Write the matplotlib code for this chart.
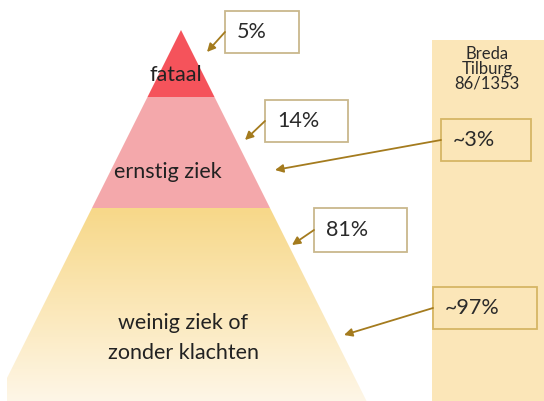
import matplotlib.pyplot as plt
import numpy as np
from matplotlib.patches import Polygon, Rectangle
from matplotlib.colors import LinearSegmentedColormap

# pyramid tiers (top to bottom)
tiers = ['fataal', 'ernstig ziek', 'weinig ziek of\nzonder klachten']
tier_bounds = [30, 97, 208, 401]   # y of apex and tier bottoms
pcts = ['5%', '14%', '81%']
right_pcts = ['~3%', '~97%']
side_title = 'Breda\nTilburg\n86/1353'

apex_x = 181
slope = 0.5
left_clip = 7

def half(y):
    return slope * (y - tier_bounds[0])

fig = plt.figure(figsize=(5.44, 4.01), dpi=100)
ax = fig.add_axes([0, 0, 1, 1])
ax.set_xlim(0, 544)
ax.set_ylim(401, 0)
ax.axis('off')

font = ['Lato', 'DejaVu Sans']
plt.rcParams['font.family'] = font

# right column
ax.add_patch(Rectangle((432, 40), 112, 361, facecolor='#FBE6B8', edgecolor='none'))
ax.text(487, 69, side_title, ha='center', va='center', fontsize=12,
        color='#2a2a2a', linespacing=0.9)

# top two tiers
tier_colors = ['#F5535B', '#F4A8AB']
for i in range(2):
    y0, y1 = tier_bounds[i], tier_bounds[i + 1]
    pts = [(apex_x - half(y0), y0), (apex_x + half(y0), y0),
           (apex_x + half(y1), y1), (apex_x - half(y1), y1)]
    ax.add_patch(Polygon(pts, closed=True, facecolor=tier_colors[i], edgecolor='none'))

# bottom tier with gradient
y0, y1 = tier_bounds[2], tier_bounds[3]
pts = [(apex_x - half(y0), y0), (apex_x + half(y0), y0),
       (apex_x + half(y1), y1), (left_clip, y1),
       (left_clip, tier_bounds[0] + (apex_x - left_clip) / slope)]
poly = Polygon(pts, closed=True, facecolor='none', edgecolor='none')
ax.add_patch(poly)
cmap = LinearSegmentedColormap.from_list('g', ['#F7D889', '#FBE7B7', '#FEF6E7'])
grad = np.linspace(0, 1, 256).reshape(-1, 1)
im = ax.imshow(grad, cmap=cmap, extent=(0, 400, y1, y0), aspect='auto')
im.set_clip_path(poly)
ax.set_xlim(0, 544)
ax.set_ylim(401, 0)

# tier labels
label_pos = [(176, 75), (168, 172), (183, 338)]
for name, (x, y) in zip(tiers, label_pos):
    ax.text(x, y, name, ha='center', va='center', fontsize=15.5,
            color='#222222', linespacing=1.6)

# percentage boxes: (x0, y0, x1, y1), arrow tip, fill, edge
boxes = [(225, 11, 299, 53), (265, 100, 348, 142), (314, 208, 407, 252),
         (441, 119, 531, 161), (433, 287, 537, 329)]
tips = [(207, 52), (245, 140), (292, 245), (275, 170), (344, 335)]
labels = pcts + right_pcts
fills = ['white', 'white', 'white', '#FBE6B8', '#FBE6B8']
edges = ['#C9B78C', '#C9B78C', '#C9B78C', '#D6B664', '#D6B664']

for (bx0, by0, bx1, by1), tip, lab, fc, ec in zip(boxes, tips, labels, fills, edges):
    ax.add_patch(Rectangle((bx0, by0), bx1 - bx0, by1 - by0, facecolor=fc,
                           edgecolor=ec, linewidth=1.3))
    ax.text(bx0 + 12, (by0 + by1) / 2, lab, ha='left', va='center',
            fontsize=15.5, color='#2a2a2a')
    ax.annotate('', xy=tip, xytext=(bx0, (by0 + by1) / 2),
                arrowprops=dict(arrowstyle='-|>', color='#A47B1E', lw=1.3,
                                mutation_scale=12, shrinkA=0, shrinkB=0))

fig.savefig('out.png', dpi=100)
